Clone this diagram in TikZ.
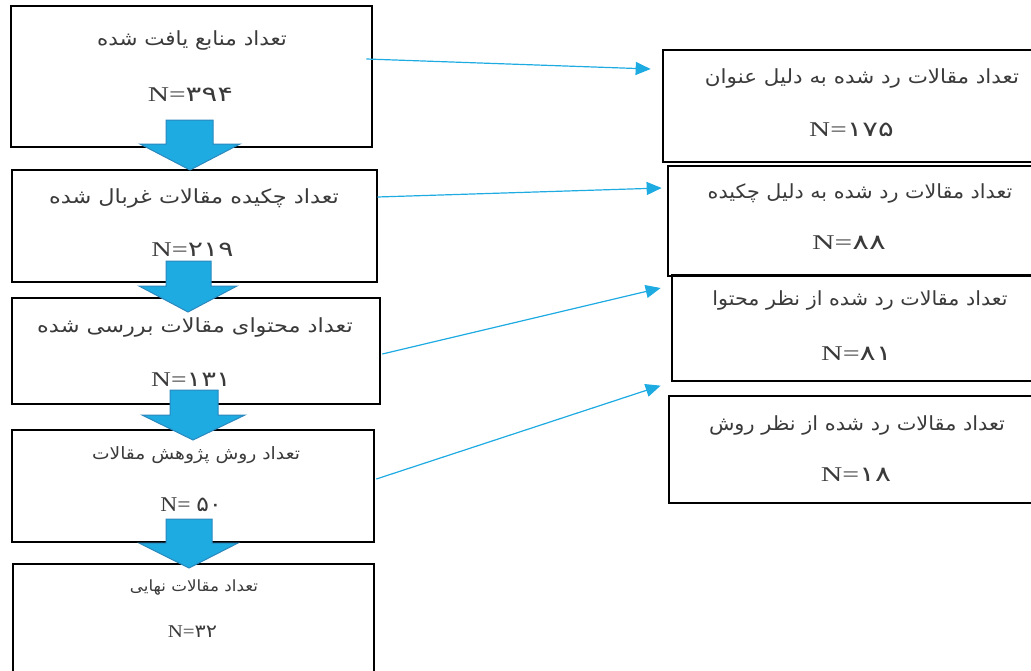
\documentclass[tikz,border=0pt]{standalone}
\usepackage{fontspec}
\usepackage{graphicx}
\setmainfont{Liberation Serif}
\newfontfamily\fa[Script=Arabic]{DejaVu Sans}
\TeXXeTstate=1
\usetikzlibrary{arrows.meta,calc}
\definecolor{flowblue}{HTML}{1DABE2}
\definecolor{flowedge}{HTML}{2B88BD}
\definecolor{txt}{HTML}{3A3A3A}
\tikzset{
  box/.style={draw=black, line width=2.7pt, rectangle, inner sep=0pt},
  ttl/.style={text=txt, inner sep=0pt, font=\fa\fontsize{19.5}{22}\selectfont},
  ttlsmall/.style={text=txt, inner sep=0pt, font=\fa\fontsize{17}{20}\selectfont},
  ttltiny/.style={text=txt, inner sep=0pt, font=\fa\fontsize{15.5}{18}\selectfont},
  num/.style={text=txt, inner sep=0pt, font=\fontsize{21}{24}\selectfont},
  numsmall/.style={text=txt, inner sep=0pt, font=\fontsize{18}{21}\selectfont},
  conn/.style={draw=flowblue, line width=1.2pt, -{Triangle[length=15pt,width=13pt]}},
  blockarrow/.style={fill=flowblue, draw=flowedge, line width=1pt},
}
\newcommand{\fanum}[1]{{\fa #1}}
\newcommand{\hs}[2]{\scalebox{#1}[1]{#2}}
\begin{document}
\begin{tikzpicture}[x=1pt,y=-1pt]
\useasboundingbox (0,0) rectangle (1031,670);
% left column boxes
\node[box, minimum width=361pt, minimum height=141pt] (b1) at (191.5,76.5) {};
\node[box, minimum width=365pt, minimum height=112pt] (b2) at (194.5,226) {};
\node[box, minimum width=368pt, minimum height=106pt] (b3) at (196,351) {};
\node[box, minimum width=362pt, minimum height=112pt] (b4) at (193,486) {};
\node[box, minimum width=361pt, minimum height=136pt] (b5) at (193.5,632) {};
% right column boxes
\node[box, minimum width=382pt, minimum height=112pt] (r1) at (854,106) {};
\node[box, minimum width=377pt, minimum height=110pt] (r2) at (856.5,221) {};
\node[box, minimum width=373pt, minimum height=106pt] (r3) at (858.5,328) {};
\node[box, minimum width=376pt, minimum height=107pt] (r4) at (857,449.5) {};
% left texts
\node[ttl] (t1) at (192,40) {\hs{1.10}{\beginR تعداد منابع یافت شده\endR}};
\node[num] (n1) at (190.5,95) {\hs{1.40}{N=\fanum{۳۹۴}}};
\node[ttl] (t2) at (194,198) {\hs{1.15}{\beginR تعداد چکیده مقالات غربال شده\endR}};
\node[num] (n2) at (192.5,250) {\hs{1.35}{N=\fanum{۲۱۹}}};
\node[ttl] (t3) at (195,327) {\hs{1.15}{\beginR تعداد محتوای مقالات بررسی شده\endR}};
\node[num] (n3) at (191,380) {\hs{1.31}{N=\fanum{۱۳۱}}};
\node[ttlsmall] (t4) at (196,455) {\hs{1.10}{\beginR تعداد روش پژوهش مقالات\endR}};
\node[num] (n4) at (191,505) {\hs{1.12}{N= \fanum{۵۰}}};
\node[ttltiny] (t5) at (194,587) {\hs{1.08}{\beginR تعداد مقالات نهایی\endR}};
\node[numsmall] (n5) at (192.5,632) {\hs{1.16}{N=\fanum{۳۲}}};
% right texts
\node[ttl] (rt1) at (862,78) {\hs{1.10}{\beginR تعداد مقالات رد شده به دلیل عنوان\endR}};
\node[num] (rn1) at (851.5,130) {\hs{1.39}{N=\fanum{۱۷۵}}};
\node[ttl] (rt2) at (860,193) {\hs{1.06}{\beginR تعداد مقالات رد شده به دلیل چکیده\endR}};
\node[num] (rn2) at (849,243) {\hs{1.49}{N=\fanum{۸۸}}};
\node[ttl] (rt3) at (860,300) {\hs{1.06}{\beginR تعداد مقالات رد شده از نظر محتوا\endR}};
\node[num] (rn3) at (856.5,354) {\hs{1.43}{N=\fanum{۸۱}}};
\node[ttl] (rt4) at (857,425) {\hs{1.07}{\beginR تعداد مقالات رد شده از نظر روش\endR}};
\node[num] (rn4) at (856,475) {\hs{1.42}{N=\fanum{۱۸}}};
% block arrows between left boxes
\draw[blockarrow] (166,120) -- (213,120) -- (213,144) -- (240,144) -- (190,170) -- (140,144) -- (166,144) -- cycle;
\draw[blockarrow] (166,261) -- (211,261) -- (211,286) -- (237,286) -- (188,312) -- (139,286) -- (166,286) -- cycle;
\draw[blockarrow] (170,390) -- (218,390) -- (218,415) -- (245,415) -- (193,440) -- (142,415) -- (170,415) -- cycle;
\draw[blockarrow] (166,519) -- (212,519) -- (212,543) -- (238,543) -- (189,568) -- (139,543) -- (166,543) -- cycle;
% thin connectors
\coordinate (c1s) at ($(b1.east)+(-7,-17.5)$);
\coordinate (c1e) at ($(r1.west)+(-11,-37)$);
\coordinate (c2s) at ($(b2.east)+(-1,-29)$);
\coordinate (c2e) at ($(r2.west)+(-5,-33)$);
\coordinate (c3s) at ($(b3.east)+(1,3)$);
\coordinate (c3e) at ($(r3.west)+(-10,-40)$);
\coordinate (c4s) at ($(b4.east)+(1,-7)$);
\coordinate (c4e) at ($(r4.north west)+(-7,-9)$);
\draw[conn] (c1s) -- (c1e);
\draw[conn] (c2s) -- (c2e);
\draw[conn] (c3s) -- (c3e);
\draw[conn] (c4s) -- (c4e);
\end{tikzpicture}
\end{document}
